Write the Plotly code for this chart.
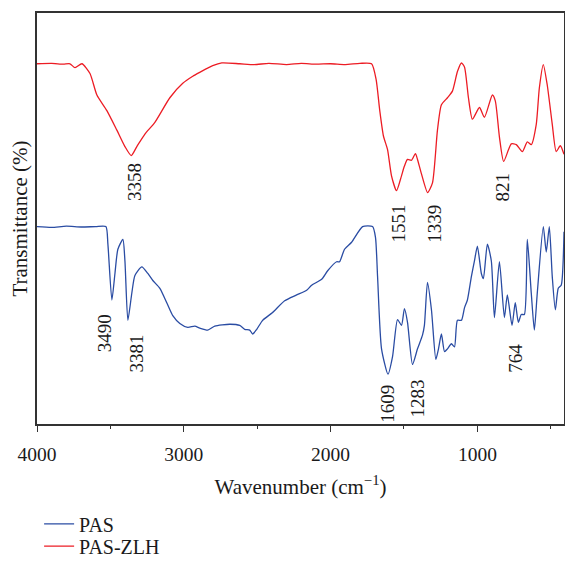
import plotly.graph_objects as go

# FTIR spectra: wavenumber (cm^-1) vs transmittance (arbitrary offset units)
pas_zlh_wavenumber = [4000, 3900, 3820, 3776, 3741, 3694, 3639, 3592, 3524, 3456, 3401, 3358,
                      3320, 3265, 3197, 3095, 3007, 2939, 2891, 2803, 2741, 2619, 2520, 2420,
                      2300, 2200, 2100, 2000, 1900, 1800, 1721, 1690, 1665, 1640, 1612, 1585,
                      1551, 1517, 1497, 1476, 1449, 1422, 1408, 1381, 1339, 1306, 1272, 1245,
                      1204, 1170, 1136, 1109, 1088, 1061, 1034, 986, 952, 898, 878, 850, 821,
                      769, 735, 694, 660, 633, 599, 578, 551, 524, 490, 463, 435, 410]
pas_zlh_transmittance = [92.0, 92.1, 91.9, 92.0, 91.0, 92.0, 89.5, 84.0, 80.0, 75.0, 70.8, 68.5,
                         70.8, 74.0, 77.0, 83.3, 87.0, 88.8, 89.8, 91.5, 92.2, 92.0, 91.8, 92.1,
                         91.8, 92.1, 91.9, 92.0, 91.8, 92.1, 92.0, 88.0, 80.0, 73.5, 70.0, 63.3,
                         59.5, 63.3, 65.8, 67.5, 67.3, 69.0, 67.5, 63.8, 59.0, 61.5, 75.0, 81.5,
                         83.3, 85.0, 90.0, 92.2, 91.2, 83.3, 77.8, 80.8, 78.3, 84.0, 82.5, 73.3,
                         67.0, 71.5, 71.3, 69.5, 72.0, 71.3, 76.5, 85.8, 91.8, 86.5, 76.5, 69.5,
                         71.0, 68.8]

pas_wavenumber = [4000, 3900, 3800, 3700, 3600, 3531, 3517, 3490, 3469, 3449, 3415, 3401,
                  3381, 3354, 3333, 3286, 3245, 3211, 3163, 3116, 3075, 3027, 2973, 2925,
                  2891, 2837, 2789, 2687, 2619, 2585, 2551, 2531, 2503, 2463, 2395, 2313,
                  2231, 2163, 2129, 2061, 2020, 1959, 1939, 1905, 1857, 1782, 1714, 1694,
                  1680, 1653, 1609, 1578, 1544, 1517, 1497, 1476, 1442, 1408, 1374, 1361,
                  1340, 1313, 1283, 1265, 1245, 1224, 1204, 1177, 1156, 1136, 1109, 1088,
                  1068, 1041, 1020, 1000, 973, 959, 932, 905, 884, 850, 816, 796, 764, 742,
                  721, 701, 680, 660, 633, 612, 592, 551, 531, 510, 490, 469, 449, 429, 410]
pas_transmittance = [50.3, 50.1, 50.4, 50.2, 50.3, 50.3, 45.8, 31.5, 38.3, 44.5, 47.0, 41.5,
                     26.3, 33.3, 37.8, 40.0, 38.3, 36.5, 34.5, 30.8, 27.5, 25.5, 24.5, 24.8,
                     24.3, 23.8, 24.8, 25.3, 25.0, 24.0, 23.8, 22.8, 24.0, 26.3, 28.3, 31.3,
                     32.8, 34.0, 35.3, 36.8, 39.0, 41.3, 41.3, 44.5, 46.3, 50.3, 50.3, 47.5,
                     37.5, 19.0, 12.5, 17.0, 26.5, 25.0, 29.3, 25.8, 15.0, 19.0, 22.5, 25.0,
                     36.0, 29.0, 16.3, 19.0, 22.8, 18.3, 19.0, 20.3, 19.5, 26.3, 26.3, 29.5,
                     31.5, 37.5, 41.5, 45.3, 38.3, 37.0, 45.8, 41.5, 27.0, 41.3, 27.0, 32.8,
                     25.0, 30.8, 25.8, 27.8, 27.8, 47.0, 33.3, 23.8, 33.3, 50.3, 43.8, 50.3,
                     37.5, 29.0, 34.5, 35.3, 49.0]

# Peak labels: wavenumber, label height (data units) and a small horizontal nudge (px)
zlh_peaks = [3358, 1551, 1339, 821]
zlh_label_y = [63.3, 52.5, 52.5, 62.0]
zlh_label_dx = [4, 1, 6, -1]
pas_peaks = [3490, 3381, 1609, 1283, 764]
pas_label_y = [24.5, 19.3, 6.5, 7.8, 18.0]
pas_label_dx = [-8, 9, 0, -18, 4]

BLUE = "#2a4ca3"
RED = "#ec1c24"
FONT = "Liberation Serif"
INK = "#1a1a1a"
AXIS = "#333333"

fig = go.Figure()
fig.add_trace(go.Scatter(x=pas_wavenumber, y=pas_transmittance, mode="lines", name="PAS",
                         legend="legend",
                         line=dict(color=BLUE, width=1.3, shape="spline", smoothing=0.6)))
fig.add_trace(go.Scatter(x=pas_zlh_wavenumber, y=pas_zlh_transmittance, mode="lines",
                         name="PAS-ZLH", legend="legend2",
                         line=dict(color=RED, width=1.3, shape="spline", smoothing=0.6)))

for wn, y, dx in zip(zlh_peaks + pas_peaks, zlh_label_y + pas_label_y,
                     zlh_label_dx + pas_label_dx):
    fig.add_annotation(x=wn, y=y, text=str(wn), textangle=-90, showarrow=False,
                       xshift=dx, yshift=-6, font=dict(family=FONT, size=19, color=INK))

legend_style = dict(xanchor="left", yanchor="middle", bgcolor="rgba(0,0,0,0)",
                    font=dict(family=FONT, size=20, color=INK))

fig.update_layout(
    width=565, height=567,
    margin=dict(l=37, r=1, t=13, b=133),
    paper_bgcolor="white", plot_bgcolor="white",
    font=dict(family=FONT, size=19, color=INK),
    showlegend=True,
    legend=dict(x=0.004, y=-0.243, **legend_style),
    legend2=dict(x=0.004, y=-0.297, **legend_style),
    xaxis=dict(range=[4000, 410], tickvals=[4000, 3000, 2000, 1000],
               ticks="outside", ticklen=6, tickwidth=1.3, tickcolor=AXIS,
               minor=dict(dtick=500, tick0=0, ticks="outside", ticklen=3, tickwidth=1.3,
                          tickcolor=AXIS),
               showline=True, linecolor=AXIS, linewidth=1.5, mirror=True,
               showgrid=False, zeroline=False, ticklabelstandoff=6,
               tickfont=dict(family=FONT, size=19.5),
               title=dict(text="Wavenumber (cm<sup>−1</sup>)", standoff=15,
                          font=dict(family=FONT, size=21)),
               automargin=False),
    yaxis=dict(range=[-0.25, 105], showticklabels=False, ticks="",
               showline=True, linecolor=AXIS, linewidth=1.5, mirror=True,
               showgrid=False, zeroline=False,
               title=dict(text="Transmittance (%)", standoff=2,
                          font=dict(family=FONT, size=21)),
               automargin=False),
)

fig.write_html("out.html")
